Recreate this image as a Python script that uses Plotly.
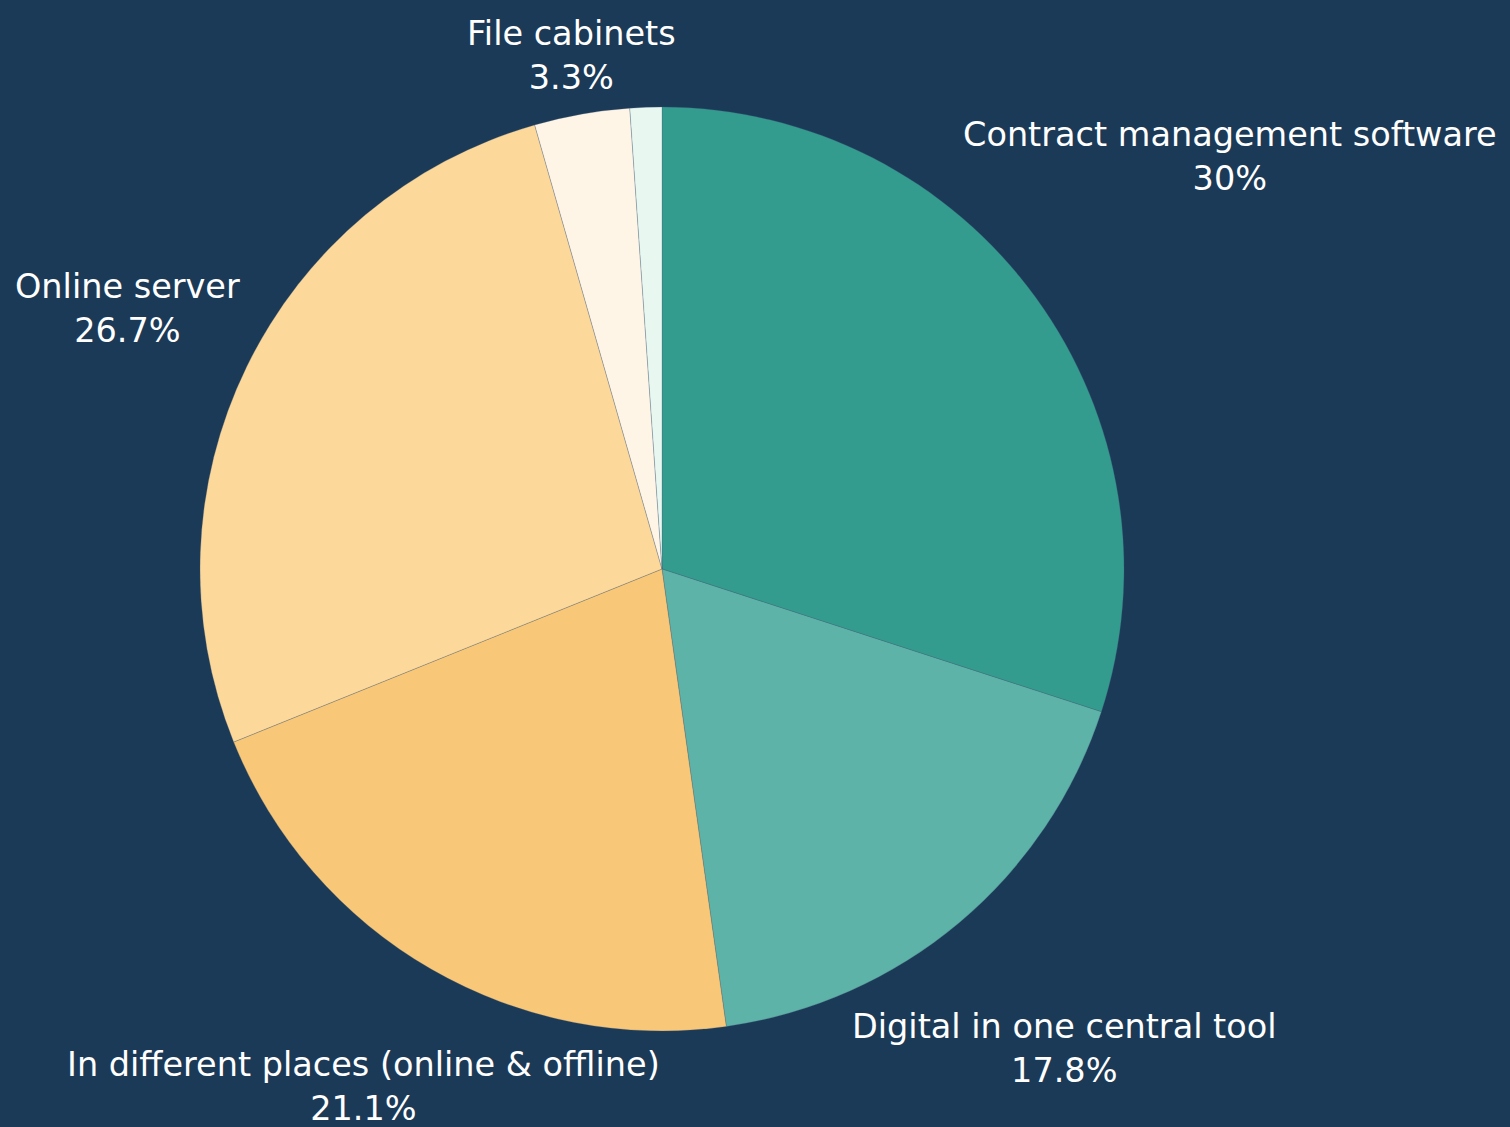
import math
import plotly.graph_objects as go

# Survey: where contracts are stored (number of respondents)
categories = [
    "Contract management software",
    "Digital in one central tool",
    "In different places (online & offline)",
    "Online server",
    "File cabinets",
    "Other",
]
responses = [27, 16, 19, 24, 3, 1]
show_label = [True, True, True, True, True, False]

# Styling
slice_colors = ["#339C8F", "#5EB3A8", "#F8C778", "#FCD89A", "#FFF5E6", "#E8F8F1"]
label_distance = [1.519, 1.355, 1.293, 1.288, 1.128, 1.1]  # label centre, in pie radii
BG = "#1B3A57"
W, H = 1510, 1127
PIE_LEFT, PIE_RIGHT, PIE_TOP, PIE_BOTTOM = 200, 1124, 107, 1031

total = sum(responses)


def pct_text(v):
    p = round(100 * v / total, 1)
    s = f"{p:.1f}".rstrip("0").rstrip(".")
    return s + "%"


fig = go.Figure(
    go.Pie(
        labels=categories,
        values=responses,
        sort=False,
        direction="clockwise",
        rotation=0,
        marker=dict(colors=slice_colors, line=dict(color="rgba(70,95,120,0.45)", width=0.6)),
        textinfo="none",
        hoverinfo="label+percent",
        showlegend=False,
        domain=dict(
            x=[PIE_LEFT / W, PIE_RIGHT / W],
            y=[(H - PIE_BOTTOM) / H, (H - PIE_TOP) / H],
        ),
    )
)

# Labels placed along each slice's mid-angle
cx = (PIE_LEFT + PIE_RIGHT) / 2
cy = (PIE_TOP + PIE_BOTTOM) / 2
radius = min(PIE_RIGHT - PIE_LEFT, PIE_BOTTOM - PIE_TOP) / 2
cum = 0
annotations = []
for name, v, show, k in zip(categories, responses, show_label, label_distance):
    mid = (cum + v / 2) / total * 2 * math.pi
    cum += v
    if not show:
        continue
    px = cx + k * radius * math.sin(mid)
    py = cy - k * radius * math.cos(mid)
    annotations.append(
        dict(
            x=px / W,
            y=(H - py) / H,
            xref="paper",
            yref="paper",
            xanchor="center",
            yanchor="middle",
            align="center",
            showarrow=False,
            text=f"{name}<br>{pct_text(v)}",
            font=dict(family="DejaVu Sans", size=33.5, color="#FFFFFF"),
        )
    )

fig.update_layout(
    width=W,
    height=H,
    margin=dict(l=0, r=0, t=0, b=0),
    paper_bgcolor=BG,
    plot_bgcolor=BG,
    annotations=annotations,
)

fig.write_html("out.html")
